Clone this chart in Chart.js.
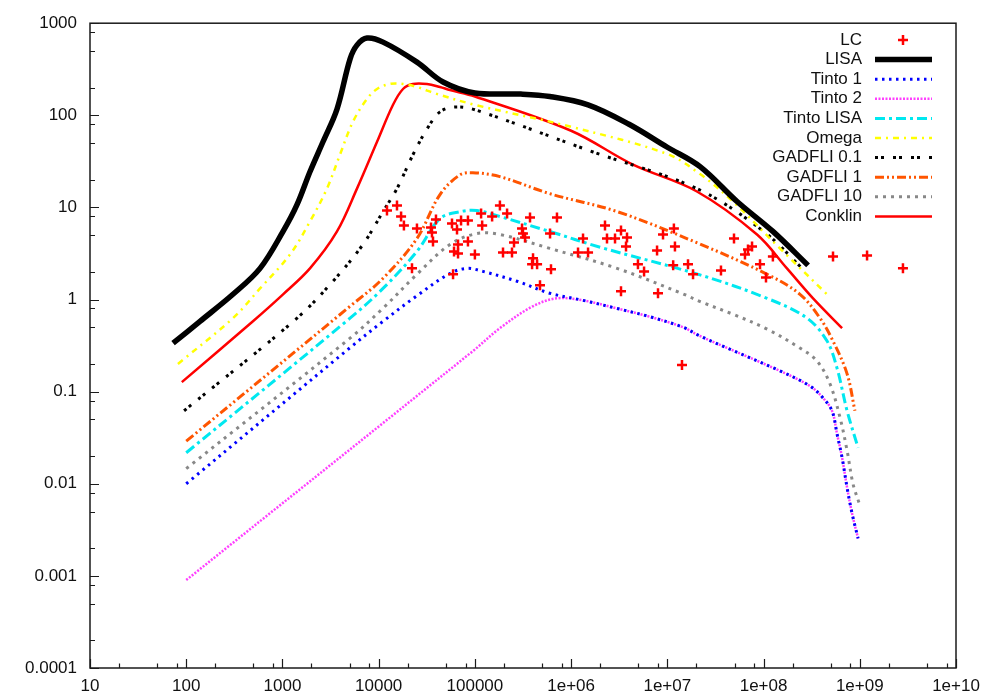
<!DOCTYPE html>
<html>
<head>
  <meta charset="utf-8">
  <title>Strain sensitivity curves</title>
  <style>
    body {
      margin: 0;
      background: #fff;
    }
    #wrap {
      width: 988px;
      height: 698px;
    }
  </style>
</head>
<body>
  <div id="wrap"><canvas id="plot" width="988" height="698"></canvas></div>

  <script src="https://cdn.jsdelivr.net/npm/chart.js"></script>
  <script>
    // axis decades and their printed labels
    const xTicks = [1e1, 1e2, 1e3, 1e4, 1e5, 1e6, 1e7, 1e8, 1e9, 1e10];
    const xTickLabels = ["10", "100", "1000", "10000", "100000", "1e+06", "1e+07", "1e+08", "1e+09", "1e+10"];
    const yTicks = [1e-4, 1e-3, 1e-2, 1e-1, 1, 10, 100, 1000];
    const yTickLabels = ["0.0001", "0.001", "0.01", "0.1", "1", "10", "100", "1000"];

    // measured points
    const lcX = [1.22e4, 1.55e4, 1.71e4, 1.83e4, 2.50e4, 2.22e4, 3.50e4, 3.94e4, 3.58e4, 3.67e4,
                 5.78e4, 6.52e4, 7.18e4, 8.47e4, 6.68e4, 8.47e4, 6.07e4, 6.68e4, 1.00e5, 5.93e4,
                 1.16e5, 1.19e5, 1.51e5, 1.82e5, 2.16e5, 3.74e5, 3.09e5, 3.16e5, 3.32e5, 2.55e5,
                 1.96e5, 2.43e5, 4.02e5, 3.93e5, 4.43e5, 6.18e5, 7.13e5, 4.75e5, 6.04e5, 1.18e6,
                 1.50e6, 1.33e6, 2.25e6, 2.36e6, 2.86e6, 3.30e6, 3.81e6, 3.72e6, 4.95e6, 5.73e6,
                 3.30e6, 7.82e6, 8.00e6, 9.02e6, 1.17e7, 1.20e7, 1.15e7, 1.64e7, 1.85e7, 1.42e7,
                 3.61e7, 4.93e7, 6.41e7, 6.89e7, 7.59e7, 9.19e7, 1.06e8, 1.25e8, 5.27e8, 1.19e9,
                 2.81e9];
    const lcY = [9.25, 10.5, 7.96, 6.36, 5.90, 2.18, 6.05, 7.39, 5.35, 4.27,
                 6.68, 5.75, 7.21, 7.21, 3.96, 4.27, 3.33, 3.17, 3.09, 1.88,
                 8.59, 6.36, 7.96, 10.5, 8.59, 7.76, 5.90, 5.21, 4.72, 4.17,
                 3.25, 3.25, 2.80, 2.41, 2.41, 2.13, 7.76, 1.43, 5.21, 3.25,
                 3.25, 4.60, 6.36, 4.60, 4.60, 5.62, 4.72, 3.77, 2.41, 2.02,
                 1.23, 3.41, 1.17, 5.08, 5.90, 3.77, 2.35, 2.41, 1.88, 0.195,
                 2.07, 4.60, 3.09, 3.50, 3.77, 2.41, 1.74, 2.94, 2.94, 3.01,
                 2.18];

    // sensitivity curves
    const lisaX = [73, 139, 306, 585, 1015, 1417, 1932, 2640, 3690, 5040, 5950, 7570, 1.11e4, 2.5e4, 4.67e4,
                   1e5, 3e5, 6e5, 1.5e6, 4e6, 1e7, 2.19e7, 5.3e7, 1.25e8, 2.9e8];
    const lisaY = [0.336, 0.58, 1.14, 2.18, 5.49, 10.7, 24.4, 51.6, 117, 408, 578, 689, 623, 378, 230,
                   175, 170, 160, 130, 80, 45, 27.7, 11.6, 5.49, 2.35];

    const tinto1X = [100, 5040, 1.11e4, 2.5e4, 5.5e4, 8.3e4, 1.21e5, 2.74e5, 6e5, 1.33e6, 3e6, 6.6e6, 1.46e7,
                     2.2e7, 1.48e8, 3.04e8, 4.15e8, 5.15e8, 5.8e8, 6.55e8, 7.38e8, 8.32e8, 9.6e8];
    const tinto1Y = [0.01, 0.30, 0.58, 1.1, 1.92, 2.18, 2.02, 1.58, 1.17, 0.98, 0.80, 0.65, 0.50,
                     0.40, 0.168, 0.115, 0.0855, 0.0618, 0.0349, 0.0192, 0.00908, 0.00475, 0.00255];

    const tinto2X = [100, 9.5e4, 1.82e5, 4e5, 7.1e5, 1.33e6, 3e6, 6.6e6, 1.46e7,
                     2.2e7, 1.48e8, 3.04e8, 4.15e8, 5.15e8, 5.8e8, 6.55e8, 7.38e8, 8.32e8, 9.6e8];
    const tinto2Y = [0.0009, 0.275, 0.489, 0.845, 1.03, 0.98, 0.80, 0.65, 0.50,
                     0.40, 0.168, 0.115, 0.0855, 0.0618, 0.0349, 0.0192, 0.00908, 0.00475, 0.00255];

    const tintoLisaX = [100, 5040, 1.11e4, 2.5e4, 4.34e4, 7e4, 1.05e5, 1.82e5, 6e5, 2e6, 2.19e7, 1.09e8,
                        2.83e8, 4.57e8, 5.8e8, 7.38e8, 9.6e8];
    const tintoLisaY = [0.0217, 0.628, 1.32, 3.33, 7.57, 9.0, 9.25, 7.96, 5.48, 3.7, 1.85, 1.03,
                        0.628, 0.354, 0.18, 0.062, 0.0246];

    const omegaX = [82, 306, 585, 1200, 1932, 2900, 3960, 5400, 7570, 9620, 1.31e4, 1.79e4, 2.5e4, 4e4,
                    1e5, 1e6, 1e7, 2.19e7, 4.8e7, 1.48e8, 4.57e8];
    const omegaY = [0.2, 0.628, 1.32, 3.09, 7.03, 16, 37.3, 85, 151, 193, 219, 219, 203, 171,
                    130, 75, 38, 23, 11.6, 3.59, 1.14];

    const gad01X = [95, 1417, 3350, 6870, 1.11e4, 1.55e4, 2.27e4, 3.18e4, 4.34e4, 6.2e4, 1e5, 1.69e6,
                    2.03e7, 1e8, 2.5e8];
    const gad01Y = [0.062, 0.628, 1.58, 3.96, 9.02, 16, 37.3, 71, 109, 123, 115, 40,
                    16, 5.5, 2.2];

    const gad1X = [100, 5040, 1.11e4, 2.5e4, 4.34e4, 7e4, 9.55e4, 1.82e5, 6e5, 3e6, 2.19e7, 1.09e8,
                   2.39e8, 3.86e8, 5.27e8, 7.38e8, 8.9e8];
    const gad1Y = [0.029, 0.845, 1.70, 4.6, 13.8, 22.6, 23.8, 21.6, 14.1, 9.02, 4.0, 1.88,
                   1.14, 0.628, 0.354, 0.156, 0.062];

    const gad10X = [100, 5040, 1.11e4, 2.5e4, 5.5e4, 1.05e5, 1.82e5, 6e5, 3e6, 1.46e7, 2.2e7, 4.8e7,
                    1.09e8, 2.39e8, 3.6e8, 4.91e8, 6.24e8, 7.38e8, 8.5e8, 9.8e8];
    const gad10Y = [0.0146, 0.381, 0.805, 1.88, 3.96, 5.21, 5.08, 3.59, 2.18, 1.15, 0.95, 0.693,
                    0.477, 0.297, 0.215, 0.121, 0.052, 0.0229, 0.01, 0.00625];

    const conklinX = [90, 494, 1015, 1932, 3690, 5950, 9620, 1.41e4, 1.79e4, 2.27e4, 3.18e4, 4.34e4, 5.5e4,
                      1e5, 1e6, 4.4e6, 2.03e7, 8.55e7, 1.75e8, 3.27e8, 6.55e8];
    const conklinY = [0.127, 0.582, 1.14, 2.18, 5.49, 16, 51.6, 130, 193, 219, 219, 203, 188,
                      160, 68, 29.1, 14.9, 5.08, 2.18, 1.03, 0.489];

    const FONT = "'Liberation Sans', Arial, sans-serif";

    function pts(xs, ys) {
      return xs.map((x, i) => ({ x: x, y: ys[i] }));
    }

    function curve(label, xs, ys, color, width, dash) {
      return {
        label: label,
        data: pts(xs, ys),
        showLine: true,
        borderColor: color,
        backgroundColor: color,
        borderWidth: width,
        borderDash: dash,
        borderCapStyle: "butt",
        borderJoinStyle: "round",
        pointRadius: 0,
        pointHoverRadius: 0,
        tension: 0.35,
        fill: false
      };
    }

    const datasets = [
      {
        label: "LC",
        data: pts(lcX, lcY),
        showLine: false,
        pointStyle: "cross",
        pointRadius: 5,
        pointBorderWidth: 2.5,
        borderColor: "#ff0000",
        backgroundColor: "#ff0000"
      },
      curve("LISA", lisaX, lisaY, "#000000", 5.5, []),
      curve("Tinto 1", tinto1X, tinto1Y, "#0000ff", 3, [2.5, 4.5]),
      curve("Tinto 2", tinto2X, tinto2Y, "#ff40ff", 2.5, [2, 1.5]),
      curve("Tinto LISA", tintoLisaX, tintoLisaY, "#00e8f0", 3, [10, 4, 3, 4]),
      curve("Omega", omegaX, omegaY, "#ffff00", 2.5, [6, 5, 2, 5]),
      curve("GADFLI 0.1", gad01X, gad01Y, "#000000", 3, [3, 3, 3, 9]),
      curve("GADFLI 1", gad1X, gad1Y, "#ff5500", 3, [9, 3, 2, 3, 2, 3]),
      curve("GADFLI 10", gad10X, gad10Y, "#888888", 3, [3, 5]),
      curve("Conklin", conklinX, conklinY, "#ff0000", 2.5, [])
    ];

    // frame, inward tick marks and the key, gnuplot style
    const framePlugin = {
      id: "frame",
      afterDraw(chart) {
        const ctx = chart.ctx;
        const a = chart.chartArea;
        const xs = chart.scales.x;
        const ys = chart.scales.y;
        ctx.save();
        ctx.strokeStyle = "#1a1a1a";
        ctx.lineWidth = 1.5;
        ctx.setLineDash([]);
        ctx.strokeRect(a.left, a.top, a.right - a.left, a.bottom - a.top);

        ctx.lineWidth = 1.2;
        ctx.beginPath();
        for (let e = 1; e <= 10; e++) {
          [1, 2, 5, 8].forEach(m => {
            const v = m * Math.pow(10, e);
            if (v > 1e10 * 1.0001) return;
            const px = Math.round(xs.getPixelForValue(v)) + 0.5;
            const len = m === 1 ? 9 : 4.5;
            ctx.moveTo(px, a.bottom);
            ctx.lineTo(px, a.bottom - len);
          });
        }
        for (let e = -4; e <= 3; e++) {
          [1, 2, 5, 8].forEach(m => {
            const v = m * Math.pow(10, e);
            if (v > 1000 * 1.0001) return;
            const py = Math.round(ys.getPixelForValue(v)) + 0.5;
            const len = m === 1 ? 9 : 5;
            ctx.moveTo(a.left, py);
            ctx.lineTo(a.left + len, py);
          });
        }
        ctx.stroke();

        // key
        ctx.font = "17px " + FONT;
        ctx.textAlign = "right";
        ctx.textBaseline = "middle";
        chart.data.datasets.forEach((ds, i) => {
          const y = 40 + i * 19.6;
          ctx.fillStyle = "#111";
          ctx.fillText(ds.label, 862, y);
          ctx.strokeStyle = ds.borderColor;
          if (ds.showLine) {
            ctx.lineWidth = ds.borderWidth;
            ctx.setLineDash(ds.borderDash);
            ctx.lineCap = "butt";
            ctx.beginPath();
            ctx.moveTo(875, y);
            ctx.lineTo(932, y);
            ctx.stroke();
          } else {
            ctx.lineWidth = ds.pointBorderWidth;
            ctx.setLineDash([]);
            ctx.beginPath();
            ctx.moveTo(903 - 5, y);
            ctx.lineTo(903 + 5, y);
            ctx.moveTo(903, y - 5);
            ctx.lineTo(903, y + 5);
            ctx.stroke();
          }
        });
        ctx.restore();
      }
    };

    const chart = new Chart(document.getElementById("plot").getContext("2d"), {
      type: "scatter",
      data: { datasets: datasets },
      options: {
        responsive: false,
        animation: false,
        devicePixelRatio: 1,
        layout: { padding: { top: 21, right: 32, left: 0, bottom: 0 } },
        plugins: {
          legend: { display: false },
          tooltip: { enabled: false }
        },
        scales: {
          x: {
            type: "logarithmic",
            position: "bottom",
            min: 10,
            max: 1e10,
            grid: { display: false, drawTicks: false },
            border: { display: false },
            afterBuildTicks: s => { s.ticks = xTicks.map(v => ({ value: v })); },
            afterFit: s => { s.height = 30; },
            ticks: {
              autoSkip: false,
              maxRotation: 0,
              padding: 8,
              color: "#111",
              font: { family: FONT, size: 17 },
              callback: (v, i) => xTickLabels[i]
            }
          },
          y: {
            type: "logarithmic",
            position: "left",
            min: 1e-4,
            max: 1000,
            grid: { display: false, drawTicks: false },
            border: { display: false },
            afterBuildTicks: s => { s.ticks = yTicks.map(v => ({ value: v })); },
            afterFit: s => { s.width = 90; },
            ticks: {
              autoSkip: false,
              padding: 13,
              color: "#111",
              font: { family: FONT, size: 17 },
              callback: (v, i) => yTickLabels[i]
            }
          }
        }
      },
      plugins: [framePlugin]
    });
  </script>
</body>
</html>
